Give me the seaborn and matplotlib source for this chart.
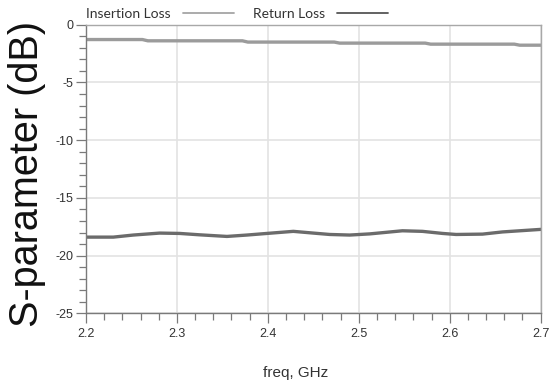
import numpy as np
import pandas as pd
import matplotlib
matplotlib.use("Agg")
import matplotlib.pyplot as plt
from matplotlib.ticker import MultipleLocator
from matplotlib.lines import Line2D
import seaborn as sns

# ---- data ----
il_freq = [2.200, 2.262, 2.268, 2.372, 2.378, 2.473, 2.479, 2.573, 2.579, 2.671, 2.677, 2.700]
il_db = [-1.28, -1.28, -1.39, -1.39, -1.50, -1.50, -1.59, -1.59, -1.68, -1.68, -1.77, -1.77]

rl_freq = [2.200, 2.230, 2.252, 2.281, 2.303, 2.325, 2.355, 2.377, 2.399, 2.428,
           2.450, 2.468, 2.490, 2.512, 2.548, 2.570, 2.592, 2.607, 2.636, 2.658, 2.700]
rl_db = [-18.40, -18.40, -18.22, -18.05, -18.08, -18.20, -18.34, -18.22, -18.08, -17.90,
         -18.05, -18.17, -18.22, -18.12, -17.85, -17.90, -18.08, -18.17, -18.14, -17.95, -17.73]

series_names = ["Insertion Loss", "Return Loss"]
x_ticks = [2.2, 2.3, 2.4, 2.5, 2.6, 2.7]
y_ticks = [-25, -20, -15, -10, -5, 0]

df = pd.concat([
    pd.DataFrame({"freq": il_freq, "dB": il_db, "series": series_names[0]}),
    pd.DataFrame({"freq": rl_freq, "dB": rl_db, "series": series_names[1]}),
], ignore_index=True)

sns.set_theme(style="white")
plt.rcParams["font.family"] = ["Liberation Sans", "DejaVu Sans"]

fig = plt.figure(figsize=(5.53, 3.81), dpi=100)
ax = fig.add_axes([0.1555, 0.1777, 0.8222, 0.7573])

palette = {series_names[0]: "#9b9b9b", series_names[1]: "#6b6b6b"}
sns.lineplot(data=df, x="freq", y="dB", hue="series", palette=palette,
             linewidth=2.4, ax=ax, legend=False, sort=False, estimator=None)

ax.set_xlim(2.2, 2.7)
ax.set_ylim(-25, 0)
ax.set_xticks(x_ticks)
ax.set_yticks(y_ticks)
ax.set_xticklabels([f"{v:.1f}" for v in x_ticks])
ax.set_yticklabels([f"{v}" for v in y_ticks])
ax.xaxis.set_minor_locator(MultipleLocator(0.02))
ax.yaxis.set_minor_locator(MultipleLocator(1))

ax.grid(True, which="major", color="#e3e3e3", linewidth=1.2)
ax.set_axisbelow(True)

for side in ["left", "bottom"]:
    ax.spines[side].set_color("#7a7a7a")
    ax.spines[side].set_linewidth(1.0)
for side in ["top", "right"]:
    ax.spines[side].set_color("#a8a8a8")
    ax.spines[side].set_linewidth(1.0)

ax.tick_params(axis="both", which="both", bottom=True, left=True, top=False, right=False)
ax.tick_params(axis="both", which="major", direction="out", length=7.5, width=0.9,
               color="#7a7a7a", labelsize=9, labelcolor="#333333")
ax.tick_params(axis="both", which="minor", direction="out", length=4.8, width=0.9,
               color="#7a7a7a")
ax.tick_params(axis="y", which="major", pad=1.5)
ax.tick_params(axis="x", which="major", pad=3)

ax.set_xlabel("freq, GHz", fontsize=11, color="#333333")
ax.xaxis.set_label_coords(0.462, -0.183)
ax.set_ylabel("S-parameter (dB)", fontsize=28.5, color="#111111")
ax.yaxis.set_label_coords(-0.088, 0.484)

# legend
handles = [Line2D([], [], color="#a5a5a5", linewidth=1.3),
           Line2D([], [], color="#555555", linewidth=1.3)]
leg = fig.legend(handles, series_names, loc="center left", bbox_to_anchor=(0.156, 0.963),
                 ncol=2, frameon=False, markerfirst=False, handlelength=3.7,
                 handletextpad=0.85, columnspacing=1.35, borderpad=0, borderaxespad=0,
                 prop={"family": "Lato", "size": 10})
for t in leg.get_texts():
    t.set_color("#333333")

fig.savefig("out.png", dpi=100)
